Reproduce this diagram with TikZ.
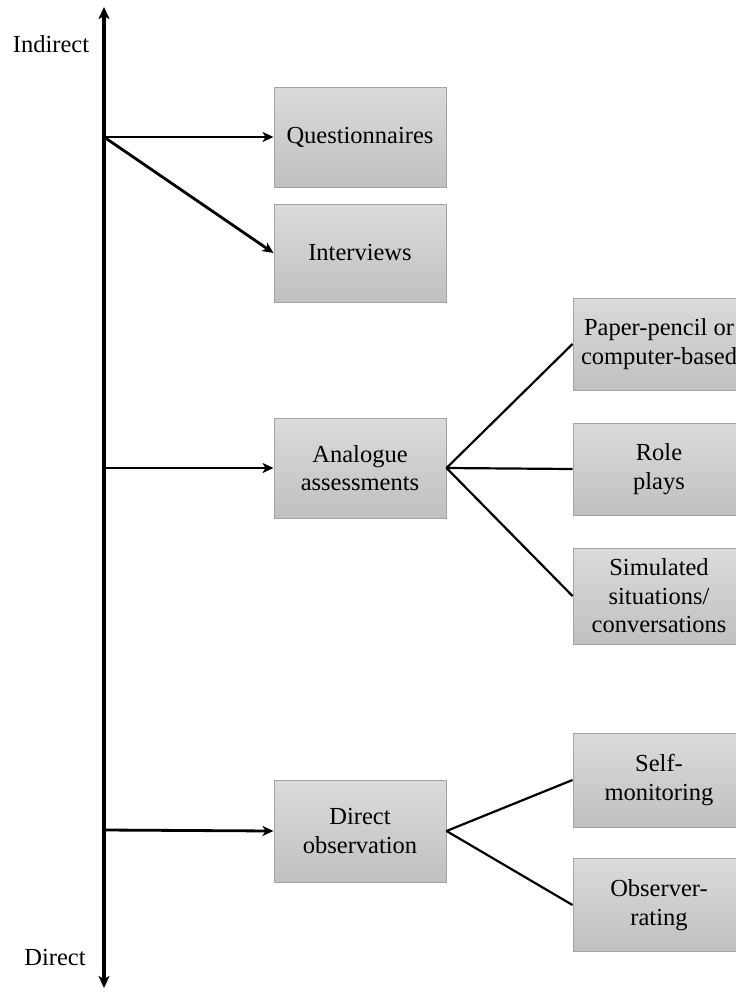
\documentclass[tikz,border=0pt]{standalone}
\usepackage{fontspec}
\setmainfont{Liberation Serif}
\usetikzlibrary{arrows.meta}
\definecolor{boxtop}{HTML}{DBDBDB}
\definecolor{boxbot}{HTML}{C0C0C0}
\definecolor{boxline}{HTML}{A3A3A3}
\begin{document}
\begin{tikzpicture}[x=1pt,y=-1pt,
  box/.style={draw=boxline, line width=1pt, top color=boxtop, bottom color=boxbot,
    minimum width=172pt, align=center, inner sep=2pt,
    font=\fontsize{24.5}{28.5}\selectfont},
  lbl/.style={font=\fontsize{24.5}{28.5}\selectfont, inner sep=0pt},
  axisline/.style={line width=3.2pt, {Stealth[length=12pt,width=11pt,inset=3pt]}-{Stealth[length=12pt,width=11pt,inset=3pt]}},
  feed/.style={line width=2.8pt, -{Stealth[length=11pt,width=10pt,inset=3pt]}},
  branch/.style={line width=2.2pt},
  ]
\clip (0,0) rectangle (736,994);

% vertical scale
\coordinate (ytop) at (104,7);
\coordinate (ybot) at (104,988);
\draw[axisline] (ybot) -- (ytop);
\node[lbl] (indirect) at (51,44) {Indirect};
\node[lbl] (direct) at (55,957) {Direct};

% branch points on the scale
\coordinate (b1) at (104,137);
\coordinate (b2) at (104,468);
\coordinate (b3) at (104,830);

% methods
\node[box, minimum height=100pt] (quest) at (360,137) {Questionnaires};
\node[box, minimum height=98pt]  (inter) at (360,253) {Interviews};
\node[box, minimum height=100pt] (analog) at (360,468) {Analogue\\assessments};
\node[box, minimum height=102pt] (obs) at (360,831) {Direct\\observation};

% analogue variants
\node[box, minimum height=92pt] (paper) at (659,344) {Paper-pencil or\\computer-based};
\node[box, minimum height=92pt] (role) at (659,469) {Role\\plays};
\node[box, minimum height=96pt] (sim) at (659,596) {Simulated\\situations/\\conversations};

% observation variants
\node[box, minimum height=94pt] (self) at (659,780) {Self-\\monitoring};
\node[box, minimum height=93pt] (rater) at (659,905) {Observer-\\rating};

% connectors
\draw[feed] (b1) -- (quest.west);
\draw[feed] (b1) -- (inter.west);
\draw[feed] (b2) -- (analog.west);
\draw[feed] (b3) -- (obs.west);

\draw[branch] (analog.east) -- (paper.west);
\draw[branch] (analog.east) -- (role.west);
\draw[branch] (analog.east) -- (sim.west);
\draw[branch] (obs.east) -- (self.west);
\draw[branch] (obs.east) -- (rater.west);
\end{tikzpicture}
\end{document}
